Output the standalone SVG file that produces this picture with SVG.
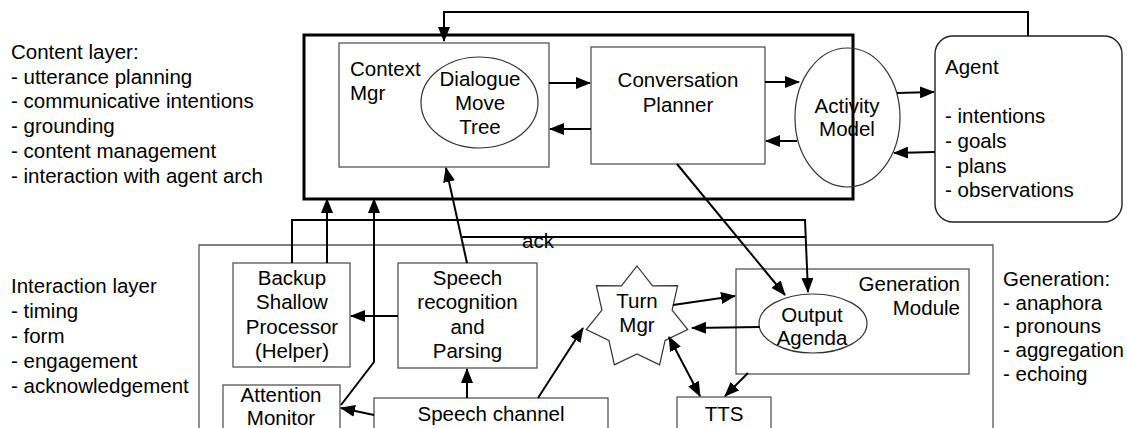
<svg xmlns="http://www.w3.org/2000/svg" width="1127" height="428" viewBox="0 0 1127 428">
<style>
text{font-family:"Liberation Sans",Arial,sans-serif;font-size:20.5px;fill:#000}
.c{text-anchor:middle}
.r{text-anchor:end}
.box{fill:none;stroke:#555;stroke-width:1.3}
.ell{fill:none;stroke:#333;stroke-width:1.2}
.big{fill:none;stroke:#000;stroke-width:3}
.lyr{fill:none;stroke:#555;stroke-width:1.3}
.ln{fill:none;stroke:#000;stroke-width:2}
.a{fill:none;stroke:#000;stroke-width:2;marker-end:url(#ah)}
.d{fill:none;stroke:#000;stroke-width:2;marker-end:url(#ah);marker-start:url(#ah)}
</style>
<defs>
<marker id="ah" viewBox="0 0 15 12" refX="14" refY="6" markerWidth="15" markerHeight="12" markerUnits="userSpaceOnUse" orient="auto-start-reverse">
<path d="M0,0 L15,6 L0,12 z" fill="#000"/>
</marker>
</defs>

<g id="labels">
<text x="11" y="59">Content layer:</text>
<text x="11" y="84">- utterance planning</text>
<text x="11" y="108">- communicative intentions</text>
<text x="11" y="133">- grounding</text>
<text x="11" y="158">- content management</text>
<text x="11" y="183">- interaction with agent arch</text>
<text x="11" y="293">Interaction layer</text>
<text x="11" y="318">- timing</text>
<text x="11" y="343">- form</text>
<text x="11" y="368">- engagement</text>
<text x="11" y="393">- acknowledgement</text>
<text x="1003" y="286">Generation:</text>
<text x="1003" y="310">- anaphora</text>
<text x="1003" y="333">- pronouns</text>
<text x="1003" y="357">- aggregation</text>
<text x="1003" y="381">- echoing</text>
</g>

<g id="content-layer"><rect class="big" x="304" y="35" width="549" height="164"/></g>
<g id="interaction-layer"><path class="lyr" d="M199,440 V245 H993 V440"/></g>

<g id="context-mgr">
<rect class="box" x="339" y="43" width="210" height="124"/>
<text x="350" y="76">Context</text>
<text x="350" y="100">Mgr</text>
</g>
<g id="dialogue-move-tree">
<ellipse class="ell" cx="479.5" cy="102.5" rx="58.5" ry="45.5"/>
<text class="c" x="480" y="86">Dialogue</text>
<text class="c" x="480" y="110">Move</text>
<text class="c" x="480" y="134">Tree</text>
</g>
<g id="conversation-planner">
<rect class="box" x="591" y="47" width="174" height="117"/>
<text class="c" x="678" y="87">Conversation</text>
<text class="c" x="678" y="112">Planner</text>
</g>
<g id="activity-model">
<ellipse class="ell" cx="847.5" cy="117.5" rx="52.5" ry="69.5"/>
<text class="c" x="847" y="113">Activity</text>
<text class="c" x="847" y="136">Model</text>
</g>
<g id="agent">
<rect x="935" y="36" width="187" height="186" rx="18" ry="18" fill="none" stroke="#222" stroke-width="1.4"/>
<text x="945" y="74">Agent</text>
<text x="945" y="123">- intentions</text>
<text x="945" y="148">- goals</text>
<text x="945" y="173">- plans</text>
<text x="945" y="197">- observations</text>
</g>
<g id="backup-shallow-processor">
<rect class="box" x="233" y="263" width="117" height="104"/>
<text class="c" x="292" y="285">Backup</text>
<text class="c" x="292" y="309">Shallow</text>
<text class="c" x="292" y="334">Processor</text>
<text class="c" x="292" y="358">(Helper)</text>
</g>
<g id="speech-recognition">
<rect class="box" x="398" y="263" width="139" height="105"/>
<text class="c" x="467.5" y="285">Speech</text>
<text class="c" x="467.5" y="309">recognition</text>
<text class="c" x="467.5" y="334">and</text>
<text class="c" x="467.5" y="358">Parsing</text>
</g>
<g id="turn-mgr">
<polygon fill="#fff" stroke="#333" stroke-width="1.2" points="637,266 652.6,285.9 677.6,285.6 672.1,310.0 687.7,329.6 665.1,340.4 659.6,364.8 637,354 614.4,364.8 608.9,340.4 586.3,329.6 601.9,310.0 596.4,285.6 621.4,285.9"/>
<text class="c" x="637" y="308">Turn</text>
<text class="c" x="637" y="332">Mgr</text>
</g>
<g id="generation-module">
<rect class="box" x="736" y="269" width="233" height="105"/>
<text class="r" x="960" y="291">Generation</text>
<text class="r" x="960" y="315">Module</text>
</g>
<g id="output-agenda">
<ellipse class="ell" cx="813" cy="323.5" rx="54" ry="29.5" fill="#fff"/>
<text class="c" x="812" y="322">Output</text>
<text class="c" x="812" y="345">Agenda</text>
</g>
<g id="attention-monitor">
<rect class="box" x="223" y="385" width="117" height="60"/>
<text class="c" x="281" y="402">Attention</text>
<text class="c" x="281" y="425">Monitor</text>
</g>
<g id="speech-channel">
<rect class="box" x="374" y="398" width="234" height="50"/>
<text class="c" x="491" y="421">Speech channel</text>
</g>
<g id="tts">
<rect class="box" x="677" y="397" width="94" height="50"/>
<text class="c" x="724" y="421">TTS</text>
</g>

<g id="connectors">
<path class="a" d="M1028,36 V12 H444 V41"/>
<path class="a" d="M549,83 H590"/>
<path class="a" d="M591,129 H550"/>
<path class="a" d="M765,82 H799"/>
<path class="a" d="M797,141 H766"/>
<path class="a" d="M897,93 L934,92"/>
<path class="a" d="M935,152 L894,153"/>
<path class="a" d="M327,263 V199"/>
<path class="a" d="M341,405 L374,362 V199"/>
<path class="a" d="M467,263 L446,168"/>
<path class="a" d="M677,164 L785,295"/>
<path class="a" d="M292,263 V220 H805 L808,292"/>
<path class="ln" d="M462,237 H806"/>
<text x="522" y="248">ack</text>
<path class="a" d="M398,316 H351"/>
<path class="a" d="M467,398 V369"/>
<path class="a" d="M374,415 L341,408"/>
<path class="a" d="M538,398 L583,328"/>
<path class="a" d="M673,305 L735,296"/>
<path class="a" d="M760,327 L692,328"/>
<path class="d" d="M669,337 L700,396"/>
<path class="a" d="M748,373 L725,396"/>
</g>
</svg>
